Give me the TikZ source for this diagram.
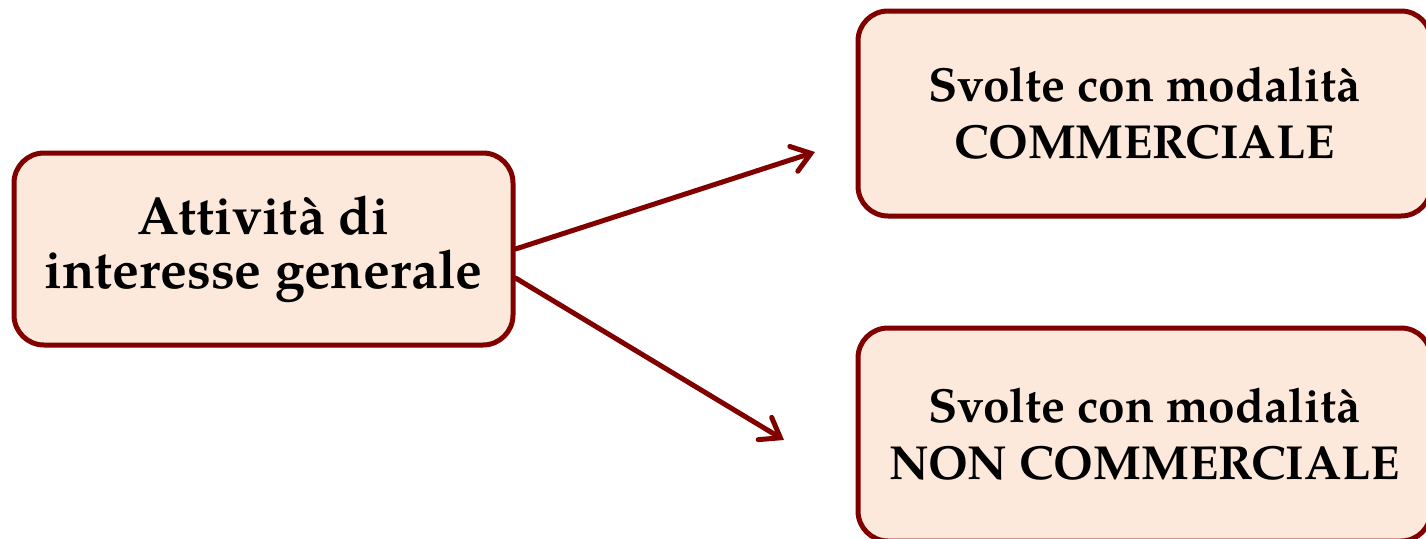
\documentclass[tikz,border=0pt]{standalone}
\usepackage{fontspec}
\setmainfont{TeX Gyre Pagella}
\usetikzlibrary{arrows.meta}
\definecolor{boxred}{HTML}{800000}
\definecolor{boxfill}{HTML}{FCE9DB}
\begin{document}
\begin{tikzpicture}[x=1pt,y=-1pt,
  box/.style={draw=boxred, fill=boxfill, line width=5pt, rounded corners=30pt,
    align=center, inner sep=0pt},
  bigtext/.style={font=\bfseries\fontsize{53.6}{54}\selectfont},
  smalltext/.style={font=\bfseries\fontsize{47.8}{57}\selectfont},
  conn/.style={draw=boxred, line width=5pt, line cap=round,
    -{Straight Barb[length=18pt,width=26pt,line cap=round]}}]
\useasboundingbox (0,0) rectangle (1426,538);
\clip (0,0) rectangle (1426,538);
\node[box, bigtext, minimum width=499pt, minimum height=192pt] (src) at (263.5,249) {Attività di\\interesse generale};
\node[box, smalltext, minimum width=573pt, minimum height=205pt] (com) at (1144.5,113.5) {Svolte con modalità\\COMMERCIALE};
\node[box, smalltext, minimum width=573pt, minimum height=213pt] (non) at (1144.5,434.5) {Svolte con modalità\\NON COMMERCIALE};
\coordinate (t1) at (815,152);
\coordinate (t2) at (784,440);
\draw[conn] (src.east) -- (t1);
\draw[conn] ([yshift=-29pt]src.east) -- (t2);
\end{tikzpicture}
\end{document}
